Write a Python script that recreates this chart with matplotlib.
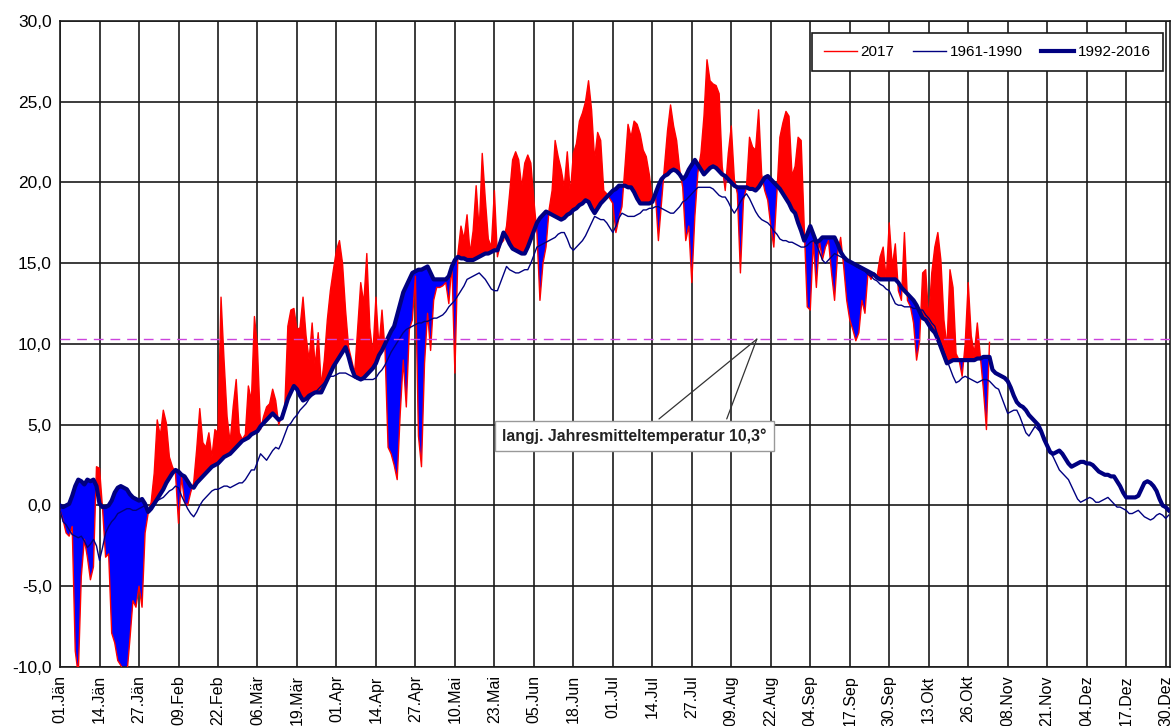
import matplotlib
matplotlib.use('Agg')
import matplotlib.pyplot as plt
import numpy as np

plt.rcParams['font.family'] = ['Liberation Sans', 'DejaVu Sans']

# x axis: day index of a 366-day calendar, ticks every 13 days
tick_labels = ['01.Jän', '14.Jän', '27.Jän', '09.Feb', '22.Feb', '06.Mär', '19.Mär',
    '01.Apr', '14.Apr', '27.Apr', '10.Mai', '23.Mai', '05.Jun', '18.Jun', '01.Jul',
    '14.Jul', '27.Jul', '09.Aug', '22.Aug', '04.Sep', '17.Sep', '30.Sep', '13.Okt',
    '26.Okt', '08.Nov', '21.Nov', '04.Dez', '17.Dez', '30.Dez']
tick_days = [13 * i for i in range(len(tick_labels))]

# mean 1992-2016
mean_9216 = [
    0.0, -0.1, 0.0, 0.1, 0.6, 1.2, 1.6, 1.5, 1.3, 1.6,
    1.5, 1.6, 1.2, 0.1, -0.1, -0.1, 0.0, 0.3, 0.8, 1.1,
    1.2, 1.1, 1.0, 0.7, 0.5, 0.4, 0.3, 0.4, 0.1, -0.4,
    -0.2, 0.1, 0.4, 0.7, 1.0, 1.4, 1.7, 2.0, 2.2, 2.1,
    1.9, 1.8, 1.5, 1.2, 1.1, 1.4, 1.6, 1.8, 2.0, 2.2,
    2.4, 2.5, 2.6, 2.8, 3.0, 3.1, 3.2, 3.4, 3.6, 3.8,
    4.0, 4.1, 4.2, 4.4, 4.5, 4.6, 4.9, 5.1, 5.3, 5.5,
    5.7, 5.5, 5.3, 5.4, 6.0, 6.6, 7.0, 7.4, 7.2, 6.8,
    6.5, 6.6, 6.8, 6.9, 7.0, 7.0, 7.0, 7.4, 7.8, 8.2,
    8.6, 8.9, 9.2, 9.5, 9.8, 9.2, 8.5, 8.0, 7.9, 7.8,
    7.9, 8.1, 8.3, 8.5, 8.8, 9.3, 9.6, 10.0, 10.4, 10.8,
    11.1, 11.8, 12.5, 13.2, 13.6, 14.0, 14.4, 14.5, 14.6, 14.6,
    14.7, 14.8, 14.4, 14.0, 14.0, 14.0, 14.0, 14.0, 14.2, 14.8,
    15.2, 15.4, 15.3, 15.3, 15.2, 15.2, 15.2, 15.3, 15.4, 15.5,
    15.6, 15.6, 15.7, 15.8, 15.8, 16.3, 16.9, 16.6, 16.2, 15.9,
    15.8, 15.7, 15.6, 15.6, 16.0, 16.5, 17.0, 17.5, 17.8, 18.0,
    18.2, 18.1, 18.0, 17.9, 17.8, 17.7, 17.8, 18.0, 18.1, 18.3,
    18.4, 18.6, 18.7, 18.9, 18.8, 18.4, 18.1, 18.4, 18.7, 18.9,
    19.1, 19.3, 19.5, 19.6, 19.8, 19.8, 19.8, 19.7, 19.7, 19.4,
    19.0, 18.7, 18.7, 18.7, 18.7, 18.8, 19.3, 19.8, 20.2, 20.4,
    20.5, 20.7, 20.8, 20.7, 20.5, 20.2, 20.4, 20.8, 21.1, 21.4,
    21.1, 20.8, 20.5, 20.7, 20.9, 21.0, 20.9, 20.7, 20.5, 20.4,
    20.2, 20.0, 19.8, 19.7, 19.7, 19.7, 19.7, 19.6, 19.6, 19.5,
    19.7, 20.0, 20.3, 20.4, 20.2, 20.0, 19.8, 19.6, 19.3, 19.0,
    18.7, 18.3, 18.1, 17.5, 17.0, 16.4, 16.8, 17.3, 16.8, 16.3,
    16.4, 16.6, 16.6, 16.6, 16.6, 16.6, 16.2, 15.7, 15.4, 15.2,
    15.1, 15.0, 14.9, 14.8, 14.7, 14.6, 14.5, 14.4, 14.3, 14.1,
    14.0, 14.0, 14.0, 14.0, 14.0, 14.0, 13.8, 13.5, 13.3, 13.1,
    12.9, 12.7, 12.4, 12.0, 11.6, 11.5, 11.2, 10.9, 10.7, 10.3,
    9.8, 9.3, 8.8, 8.9, 9.0, 9.0, 9.0, 9.0, 9.0, 9.0,
    9.0, 9.0, 9.1, 9.1, 9.2, 9.2, 9.2, 8.4, 8.2, 8.1,
    8.0, 7.9, 7.7, 7.3, 6.8, 6.4, 6.2, 6.1, 5.9, 5.6,
    5.4, 5.2, 5.0, 4.6, 4.1, 3.7, 3.3, 3.2, 3.3, 3.4,
    3.2, 2.9, 2.6, 2.4, 2.5, 2.6, 2.7, 2.7, 2.6, 2.6,
    2.5, 2.3, 2.1, 2.0, 1.9, 1.9, 1.8, 1.8, 1.5, 1.2,
    0.8, 0.5, 0.5, 0.5, 0.5, 0.6, 1.0, 1.4, 1.5, 1.4,
    1.2, 0.9, 0.4, 0.0, -0.1, -0.3]

# mean 1961-1990
mean_6190 = [
    -0.3, -1.0, -1.2, -1.5, -1.8, -1.9, -2.0, -1.9, -2.2, -2.6,
    -2.4, -2.1, -2.5, -3.4, -2.6, -1.7, -1.3, -1.0, -0.8, -0.5,
    -0.4, -0.3, -0.2, -0.2, -0.3, -0.3, -0.2, -0.1, 0.0, -0.2,
    0.0, 0.2, 0.3, 0.4, 0.5, 0.7, 0.9, 1.0, 1.2, 1.1,
    0.6, 0.2, -0.2, -0.5, -0.7, -0.4, 0.0, 0.3, 0.5, 0.7,
    0.9, 1.0, 1.0, 1.1, 1.2, 1.2, 1.1, 1.2, 1.3, 1.4,
    1.4, 1.6, 1.9, 2.2, 2.2, 2.7, 3.2, 3.0, 2.8, 3.1,
    3.4, 3.6, 3.5, 3.9, 4.4, 4.9, 5.1, 5.4, 5.6, 5.9,
    6.1, 6.3, 6.6, 6.8, 7.0, 7.2, 7.4, 7.6, 7.8, 8.0,
    8.0, 8.1, 8.2, 8.2, 8.2, 8.1, 8.0, 7.9, 7.8, 7.8,
    7.8, 7.8, 7.8, 7.8, 7.9, 8.2, 8.4, 8.7, 9.1, 9.5,
    9.8, 10.1, 10.4, 10.7, 10.9, 11.0, 11.1, 11.2, 11.3, 11.3,
    11.4, 11.4, 11.5, 11.6, 11.6, 11.7, 11.8, 12.0, 12.3, 12.5,
    12.7, 13.0, 13.3, 13.6, 14.0, 14.1, 14.2, 14.3, 14.4, 14.2,
    14.0, 13.7, 13.4, 13.3, 13.3, 13.8, 14.3, 14.8, 14.6, 14.5,
    14.4, 14.4, 14.5, 14.6, 14.6, 15.0, 15.5, 16.0, 16.1, 16.2,
    16.3, 16.4, 16.5, 16.6, 16.8, 16.9, 16.9, 16.5, 16.0, 15.8,
    16.0, 16.2, 16.4, 16.7, 17.1, 17.5, 17.9, 17.8, 17.7, 17.7,
    17.5, 17.2, 16.9, 17.3, 17.8, 18.1, 18.0, 17.9, 17.9, 17.9,
    18.0, 18.1, 18.3, 18.3, 18.4, 18.4, 18.5, 18.5, 18.4, 18.3,
    18.2, 18.1, 18.1, 18.3, 18.5, 18.8, 18.9, 19.1, 19.3, 19.5,
    19.7, 19.7, 19.7, 19.7, 19.7, 19.6, 19.4, 19.2, 19.1, 19.1,
    18.8, 18.4, 18.1, 18.4, 18.8, 19.1, 19.3, 19.0, 18.6, 18.2,
    17.9, 17.7, 17.6, 17.5, 17.3, 17.0, 16.8, 16.5, 16.4, 16.4,
    16.3, 16.3, 16.2, 16.1, 16.0, 16.0, 16.1, 16.3, 16.4, 16.2,
    15.7, 15.2, 15.0, 15.2, 15.4, 15.6, 15.5, 15.4, 15.3, 15.2,
    15.1, 15.0, 14.8, 14.7, 14.6, 14.5, 14.3, 14.2, 14.0, 13.9,
    13.7, 13.6, 13.4, 13.3, 12.9, 12.5, 12.4, 12.4, 12.3, 12.3,
    12.3, 12.2, 12.2, 12.1, 12.1, 11.8, 11.6, 11.3, 11.1, 10.5,
    10.0, 9.5, 9.0, 8.5, 8.0, 7.6, 7.7, 7.9, 8.0, 7.9,
    7.8, 7.7, 7.6, 7.7, 7.8, 7.8, 7.7, 7.5, 7.3, 7.2,
    6.7, 6.2, 5.7, 5.8, 5.9, 5.9, 5.5, 5.0, 4.5, 4.3,
    4.6, 4.9, 4.7, 4.5, 4.3, 3.8, 3.3, 3.0, 2.6, 2.2,
    2.0, 1.8, 1.6, 1.2, 0.8, 0.4, 0.2, 0.3, 0.4, 0.5,
    0.4, 0.2, 0.2, 0.3, 0.4, 0.5, 0.3, 0.1, -0.1, -0.1,
    -0.2, -0.3, -0.5, -0.5, -0.4, -0.3, -0.5, -0.7, -0.8, -0.9,
    -0.8, -0.6, -0.5, -0.6, -0.8, -0.6]

# daily mean 2017
temp_2017 = [
    -0.3, -0.9, -1.7, -1.9, -1.3, -9.0, -10.5, -4.4, -2.1, -3.2,
    -4.6, -3.8, 2.4, 2.3, -0.2, -3.2, -3.0, -7.9, -8.5, -9.6,
    -9.9, -10.3, -10.5, -8.3, -5.9, -6.3, -5.0, -6.3, -1.7, -0.5,
    0.2, 2.0, 5.3, 4.3, 5.9, 5.1, 3.0, 2.4, 2.0, -1.1,
    1.8, 0.2, 0.0, 0.8, 1.4, 3.5, 6.0, 3.9, 3.6, 4.5,
    3.0, 4.7, 4.5, 12.9, 9.0, 5.5, 3.9, 6.1, 7.8, 4.5,
    4.1, 4.4, 7.4, 6.5, 11.7, 9.8, 4.7, 5.5, 6.1, 6.3,
    7.2, 6.5, 5.0, 5.6, 6.1, 11.1, 12.1, 12.2, 10.9, 11.0,
    12.9, 10.5, 9.0, 11.3, 8.6, 10.7, 7.4, 9.0, 11.5, 13.3,
    14.6, 15.8, 16.4, 15.0, 12.1, 9.8, 9.0, 8.2, 11.0, 13.8,
    12.5, 15.6, 11.0, 9.4, 12.9, 9.8, 12.1, 9.6, 3.6, 3.2,
    2.5, 1.6, 5.7, 9.0, 6.1, 10.9, 11.5, 14.2, 4.3, 2.4,
    8.8, 11.9, 9.6, 12.7, 13.5, 13.5, 13.6, 13.8, 12.5, 15.0,
    8.2, 15.6, 17.3, 16.5, 18.0, 15.6, 17.0, 19.8, 17.0, 21.8,
    19.0, 16.5, 16.0, 19.5, 15.4, 16.2, 16.4, 17.3, 19.3, 21.4,
    21.9, 21.4, 19.7, 21.2, 21.7, 21.2, 18.9, 16.9, 12.7, 15.0,
    16.0, 18.3, 19.5, 22.6, 21.6, 20.8, 19.7, 21.9, 19.3, 21.8,
    22.4, 23.8, 24.3, 25.0, 26.3, 24.5, 21.4, 23.1, 22.6, 19.5,
    19.3, 19.0, 18.7, 16.9, 17.8, 18.5, 21.0, 23.6, 22.8, 23.8,
    23.6, 23.0, 22.0, 21.6, 20.5, 18.9, 19.3, 16.4, 18.7, 21.0,
    23.2, 24.8, 23.5, 22.6, 20.8, 19.7, 16.4, 17.3, 13.8, 17.9,
    20.6, 21.8, 24.1, 27.6, 26.3, 26.1, 26.0, 25.5, 21.0, 19.5,
    21.8, 23.5, 20.2, 19.3, 14.4, 18.9, 19.7, 22.8, 22.2, 22.0,
    24.5, 20.5, 19.5, 18.9, 17.3, 16.0, 19.3, 22.8, 23.7, 24.4,
    24.1, 20.4, 21.0, 22.8, 22.6, 17.3, 12.3, 12.1, 16.4, 13.5,
    16.4, 15.2, 16.0, 16.4, 14.4, 12.7, 15.6, 16.6, 14.8, 12.7,
    11.5, 10.9, 10.2, 10.7, 12.7, 11.9, 14.4, 14.0, 14.4, 14.2,
    15.4, 16.0, 14.0, 17.5, 14.8, 16.2, 13.3, 12.7, 16.9, 12.7,
    12.3, 11.3, 9.0, 10.2, 14.4, 14.6, 11.5, 14.4, 16.0, 16.9,
    15.2, 11.5, 9.8, 14.6, 13.5, 9.4, 9.0, 8.0, 10.0, 13.8,
    10.5, 9.4, 11.3, 9.2, 7.2, 4.7, 10.1]

annual_mean = 10.3

days = np.arange(len(mean_9216))
mean_9216 = np.array(mean_9216)
mean_6190 = np.array(mean_6190)
t17 = np.array(temp_2017)
d17 = np.arange(len(t17))
m17 = mean_9216[:len(t17)]

fig = plt.figure(figsize=(11.75, 7.26), dpi=100)
ax = fig.add_axes([0.0511, 0.0813, 0.9443, 0.8898])

ax.fill_between(d17, t17, m17, where=t17 >= m17, interpolate=True,
    color='#ff0000', lw=0, zorder=2)
ax.fill_between(d17, t17, m17, where=t17 < m17, interpolate=True,
    color='#0000ff', lw=0, zorder=2)
ax.plot(d17, t17, color='#ff0000', lw=1, zorder=3, label='2017')
ax.plot(days, mean_6190, color='#000080', lw=1, zorder=4, label='1961-1990')
ax.plot(days, mean_9216, color='#000080', lw=3, zorder=5, label='1992-2016')
ax.axhline(annual_mean, color='#cc44dd', lw=1, ls=(0, (7, 5)), zorder=6)

# callout
tip = (229.4, annual_mean)
for xb in (197.2, 219.5):
    ax.annotate('', xy=tip, xytext=(xb, 5.36),
        arrowprops=dict(arrowstyle='-', color='#333333', lw=0.9,
                        shrinkA=0, shrinkB=0), zorder=7)
ax.text(189.1, 4.3, 'langj. Jahresmitteltemperatur 10,3°', ha='center', va='center',
    fontsize=11.4, fontweight='bold', color='#222222', zorder=8,
    bbox=dict(boxstyle='square,pad=0.45', fc='white', ec='#999999', lw=1))

ax.set_xlim(0, 365.3)
ax.set_ylim(-10, 30)
ax.set_xticks(tick_days)
ax.set_xticklabels(tick_labels, rotation=90, va='top', ha='center', fontsize=11.5)
yt = np.arange(-10, 31, 5)
ax.set_yticks(yt)
ax.set_yticklabels([f'{v:.1f}'.replace('.', ',') for v in yt], fontsize=12.5)
ax.tick_params(length=0, pad=6)
ax.grid(True, color='#1a1a1a', lw=1.2, zorder=1)
ax.set_axisbelow(True)
for s in ax.spines.values():
    s.set_color('#1a1a1a')
    s.set_linewidth(1.2)

leg = ax.legend(loc='upper right', bbox_to_anchor=(0.9937, 0.9814), ncol=3,
    fontsize=11, frameon=True, fancybox=False, edgecolor='#1a1a1a', framealpha=1,
    handlelength=2.2, columnspacing=1.2, borderaxespad=0, borderpad=0.8,
    handletextpad=0.2)
leg.get_frame().set_linewidth(1.2)
leg.set_zorder(10)

fig.savefig('out.png', dpi=100)
